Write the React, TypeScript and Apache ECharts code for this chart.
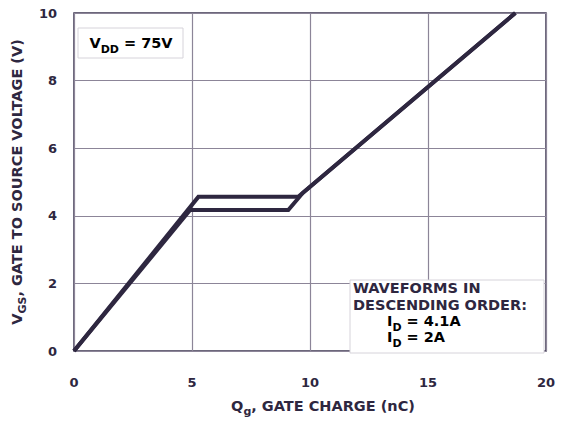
import React, { useEffect, useRef } from "react";
import * as echarts from "echarts";

const xTicks = [0, 5, 10, 15, 20];
const yTicks = [0, 2, 4, 6, 8, 10];
const seriesNames = ["ID = 4.1A", "ID = 2A"];
const id41: [number, number][] = [[0, 0], [5.27, 4.56], [9.5, 4.56], [18.7, 10]];
const id2: [number, number][] = [[0, 0], [4.92, 4.17], [9.08, 4.17], [9.7, 4.68], [18.7, 10]];

const INK = "#2e2740";
const FONT = "DejaVu Sans";

export default function App() {
  const ref = useRef<HTMLDivElement>(null);
  useEffect(() => {
    const chart = echarts.init(ref.current!, null, { renderer: "svg" });
    const sub = { fontSize: 11, fontWeight: "bold", color: INK, fontFamily: FONT, verticalAlign: "bottom", padding: [0, 0, -4, 0] };
    const main = { fontSize: 14.5, fontWeight: "bold", color: INK, fontFamily: FONT };
    chart.setOption({
      animation: false,
      backgroundColor: "#ffffff",
      grid: { left: 74, right: 16, top: 13, bottom: 68, show: true, borderColor: "#3d3650", borderWidth: 1.5, backgroundColor: "transparent" },
      xAxis: {
        type: "value", min: xTicks[0], max: xTicks[xTicks.length - 1], interval: 5,
        axisLine: { show: false }, axisTick: { show: false },
        splitLine: { show: true, lineStyle: { color: "#8c8598", width: 1.2 } },
        axisLabel: { margin: 25, color: INK, fontSize: 13, fontWeight: "bold", fontFamily: FONT },
        name: "{a|Q}{b|g}{a|, GATE CHARGE (nC)}", nameLocation: "middle", nameGap: 47,
        nameTextStyle: { padding: [0, 0, 0, 26], rich: { a: main, b: sub } },
      },
      yAxis: {
        type: "value", min: yTicks[0], max: yTicks[yTicks.length - 1], interval: 2,
        axisLine: { show: false }, axisTick: { show: false },
        splitLine: { show: true, lineStyle: { color: "#8c8598", width: 1.2 } },
        axisLabel: { margin: 17, color: INK, fontSize: 13, fontWeight: "bold", fontFamily: FONT },
        name: "{a|V}{b|GS}{a|, GATE TO SOURCE VOLTAGE (V)}", nameLocation: "middle", nameGap: 44, nameRotate: 90,
        nameTextStyle: { rich: { a: main, b: sub } },
      },
      series: [
        { name: seriesNames[0], type: "line", data: id41, symbol: "none", lineStyle: { color: INK, width: 4, join: "miter" }, z: 3 },
        { name: seriesNames[1], type: "line", data: id2, symbol: "none", lineStyle: { color: INK, width: 4, join: "miter" }, z: 3 },
      ],
      graphic: [
        { type: "rect", shape: { x: 78, y: 28, width: 105, height: 30 }, style: { fill: "#ffffff", stroke: "#d6d3da", lineWidth: 1 }, z: 10 },
        { type: "text", x: 131, y: 43, z: 11, style: { text: "{a|V}{b|DD}{a| = 75V}", align: "center", verticalAlign: "middle", rich: { a: main, b: sub } } },
        { type: "rect", shape: { x: 350, y: 280, width: 194, height: 73 }, style: { fill: "#ffffff", stroke: "#d6d3da", lineWidth: 1 }, z: 10 },
        { type: "text", x: 353, y: 288, z: 11, style: { text: "WAVEFORMS IN", fill: INK, fontSize: 14.5, fontWeight: "bold", fontFamily: FONT, verticalAlign: "middle" } },
        { type: "text", x: 353, y: 305, z: 11, style: { text: "DESCENDING ORDER:", fill: INK, fontSize: 14.5, fontWeight: "bold", fontFamily: FONT, verticalAlign: "middle" } },
        { type: "text", x: 387, y: 321, z: 11, style: { text: "{a|I}{b|D}{a| = 4.1A}", verticalAlign: "middle", rich: { a: main, b: sub } } },
        { type: "text", x: 387, y: 337, z: 11, style: { text: "{a|I}{b|D}{a| = 2A}", verticalAlign: "middle", rich: { a: main, b: sub } } },
      ],
    });
    return () => chart.dispose();
  }, []);
  return <div ref={ref} style={{ position: "fixed", left: 0, top: 0, width: 562, height: 422 }} />;
}
